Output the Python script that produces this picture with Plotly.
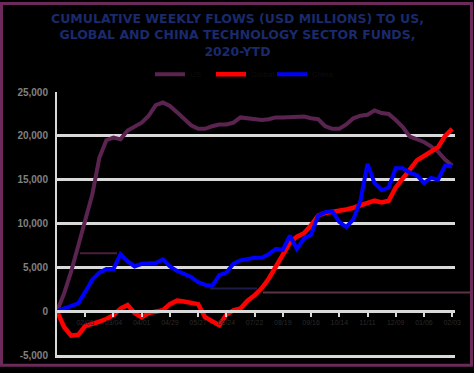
import plotly.graph_objects as go
import pandas as pd

# ---- data (USD millions, cumulative weekly flows) ----
weeks = [d.strftime("%m/%d/%y") for d in pd.date_range("2020-01-08", periods=57, freq="7D")]

us_tech = [0, 2000, 4500, 7500, 10500, 13300, 17500, 19500, 19800, 19600,
           20600, 21000, 21500, 22300, 23500, 23800, 23400, 22700, 22000, 21200,
           20800, 20800, 21100, 21300, 21300, 21500, 22100, 22000, 22000, 21800,
           21900, 22100, 22100, 22100, 22200, 22200, 22000, 21900, 21100, 20800,
           20800, 21300, 22000, 22300, 22400, 22900, 22600, 22500, 21800, 21000,
           19900, 19600, 19300, 18800, 18200, 17300, 16600]

global_tech = [0, -1800, -2800, -2700, -1700, -1500, -1200, -900, -450, 300,
               700, -200, -700, -200, 0, 100, 800, 1200, 1100, 900,
               800, -700, -1200, -1600, -400, 100, 300, 1200, 1800, 2600,
               3700, 5100, 6500, 7800, 8500, 8900, 9800, 10900, 11200, 11300,
               11500, 11600, 11800, 12100, 12400, 12600, 12400, 12600, 14100, 15200,
               16300, 17200, 17700, 18200, 18700, 20000, 20800]

china_tech = [0, 300, 600, 900, 2200, 3600, 4400, 4800, 4800, 6500,
              5700, 5100, 5400, 5500, 5500, 5900, 5100, 4600, 4200, 3900,
              3300, 3000, 2900, 4100, 4400, 5400, 5800, 6000, 6100, 6100,
              6500, 7100, 7000, 8600, 7100, 8300, 8700, 10900, 11300, 11400,
              10200, 9600, 10500, 12600, 16800, 14600, 13800, 14100, 16300, 16300,
              15800, 15500, 14600, 15200, 15000, 16600, 16500]

series_names = ["US", "Global", "China"]
series_colors = ["#5b2450", "#ff0000", "#0000ff"]
series_widths = [4, 4.5, 4]

y_ticks = [-5000, 0, 5000, 10000, 15000, 20000, 25000]
y_tick_text = ["-5,000", "0", "5,000", "10,000", "15,000", "20,000", "25,000"]

title_text = ("CUMULATIVE WEEKLY FLOWS (USD MILLIONS) TO US,<br>"
              "GLOBAL AND CHINA TECHNOLOGY SECTOR FUNDS,<br>"
              "2020-YTD")

fig = go.Figure()
for name, vals, col, w in zip(series_names, [us_tech, global_tech, china_tech],
                              series_colors, series_widths):
    fig.add_trace(go.Scatter(x=weeks, y=vals, mode="lines", name=name,
                             line=dict(color=col, width=w)))
# carrier for the bottom frame axis (no visible data)
fig.add_trace(go.Scatter(x=[weeks[0]], y=[None], xaxis="x2", mode="lines",
                         showlegend=False, hoverinfo="skip"))


def px(xp):
    return (xp - 57) / 398


def py(yp):
    return (361 - yp) / 269


fig.update_layout(
    width=474, height=373,
    margin=dict(l=57, r=19, t=92, b=12),
    paper_bgcolor="#000000", plot_bgcolor="#000000",
    showlegend=True,
    legend=dict(orientation="h", x=px(150), xanchor="left",
                y=py(59), yanchor="top",
                entrywidthmode="pixels", entrywidth=16,
                font=dict(family="Liberation Sans", size=8, color="#0d0d0d"),
                bgcolor="rgba(0,0,0,0)", itemwidth=30),
    font=dict(family="Liberation Sans"),
    xaxis2=dict(matches="x", overlaying="x", anchor="y", side="bottom",
                showline=True, linecolor="#d9d9d9", linewidth=3,
                showticklabels=False, ticks="", showgrid=False, zeroline=False),
)

fig.add_annotation(text=title_text, xref="paper", yref="paper",
                   x=px(237), y=py(7), xanchor="center", yanchor="top",
                   showarrow=False, align="center",
                   font=dict(family="DejaVu Sans", size=12.5, color="#1a2a6c", weight="bold"))

fig.update_xaxes(
    selector=dict(anchor="free"),
)
fig.layout.xaxis.update(
    type="category", range=[0, 56.4],
    anchor="free", position=(361 - 316) / 269,
    showgrid=False, zeroline=False,
    showline=True, linecolor="#d9d9d9", linewidth=3,
    ticks="outside", ticklen=4, tickwidth=2, tickcolor="#d9d9d9",
    tickvals=weeks[4::4], ticktext=[w[:5] for w in weeks[4::4]],
    tickfont=dict(size=7, color="#2a2a2a"),
)
fig.update_yaxes(
    range=[-5000, 25000],
    tickvals=y_ticks, ticktext=y_tick_text,
    showgrid=True, gridcolor="#d9d9d9", gridwidth=3,
    zeroline=False,
    showline=True, linecolor="#d9d9d9", linewidth=2,
    ticks="", ticklabelstandoff=5,
    tickfont=dict(size=10, color="#808080", weight="bold"),
)

# stray connector lines seen in the original
fig.add_shape(type="line", xref="paper", yref="paper", x0=px(80), x1=px(117), y0=py(257), y1=py(257),
              line=dict(color="#4a1f3f", width=2), layer="below")
fig.add_shape(type="line", xref="paper", yref="paper", x0=px(210), x1=px(257), y0=py(293), y1=py(293),
              line=dict(color="#1c1c4a", width=2), layer="below")
fig.add_shape(type="line", xref="paper", yref="paper", x0=px(263), x1=px(471), y0=py(297), y1=py(297),
              line=dict(color="#5a3344", width=2), layer="below")
# outer frame
fig.add_shape(type="rect", xref="paper", yref="paper", x0=px(1.5), x1=px(471.5), y0=py(371.5), y1=py(1.5),
              line=dict(color="#6b2a5a", width=3), fillcolor="rgba(0,0,0,0)")

fig.write_html("out.html")
